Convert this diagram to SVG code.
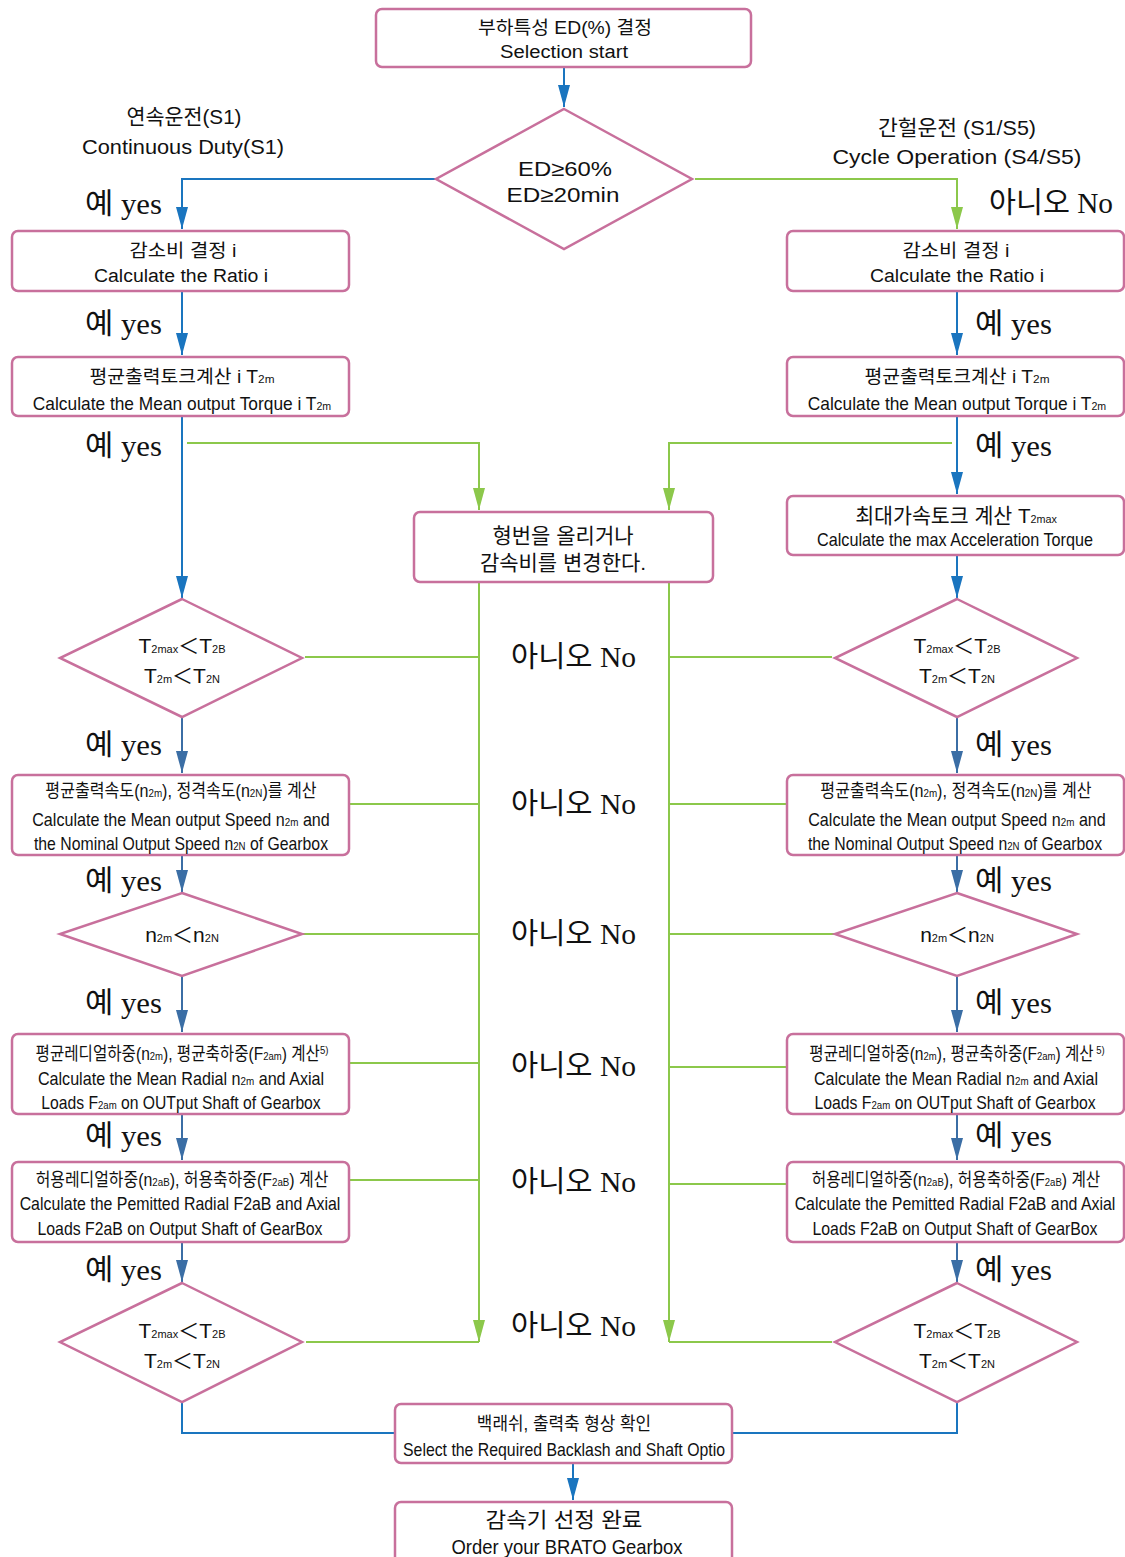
<svg xmlns="http://www.w3.org/2000/svg" width="1125" height="1557" viewBox="0 0 1125 1557">
<defs>
<style>
.box{fill:#fff;stroke:#c8709c;stroke-width:2.5}
.t{font-family:"Liberation Sans","Noto Sans CJK KR",sans-serif;font-size:18px;fill:#111;text-anchor:middle}
.tl{font-family:"Liberation Sans","Noto Sans CJK KR",sans-serif;font-size:21px;fill:#111;text-anchor:middle}
.s{font-size:11px}
.lab{font-family:"Liberation Serif","Noto Sans CJK KR",serif;font-size:29px;fill:#111}
.b1{fill:none;stroke:#1a75bf;stroke-width:2}
.b2{fill:none;stroke:#3b6ea5;stroke-width:2}
.g{fill:none;stroke:#8cc84b;stroke-width:2}
</style>
<marker id="ab1" viewBox="0 0 22 12" refX="22" refY="6" markerWidth="22" markerHeight="12" markerUnits="userSpaceOnUse" orient="auto"><path d="M0,0 L22,6 L0,12 z" fill="#1a75bf"/></marker>
<marker id="ab2" viewBox="0 0 22 12" refX="22" refY="6" markerWidth="22" markerHeight="12" markerUnits="userSpaceOnUse" orient="auto"><path d="M0,0 L22,6 L0,12 z" fill="#3b6ea5"/></marker>
<marker id="ag" viewBox="0 0 22 12" refX="22" refY="6" markerWidth="22" markerHeight="12" markerUnits="userSpaceOnUse" orient="auto"><path d="M0,0 L22,6 L0,12 z" fill="#8cc84b"/></marker>
</defs>
<rect width="1125" height="1557" fill="#fff"/>

<g id="connectors">
<path class="b1" d="M564,67 V107" marker-end="url(#ab1)"/>
<path class="b1" d="M436,179 H182 V229" marker-end="url(#ab1)"/>
<path class="g" d="M695,179 H957 V229" marker-end="url(#ag)"/>
<path class="b1" d="M182,291 V355" marker-end="url(#ab1)"/>
<path class="b1" d="M957,291 V355" marker-end="url(#ab1)"/>
<path class="b1" d="M182,416 V598" marker-end="url(#ab1)"/>
<path class="b1" d="M957,416 V494" marker-end="url(#ab1)"/>
<path class="b1" d="M957,555 V598" marker-end="url(#ab1)"/>
<path class="g" d="M187,443 H479 V510" marker-end="url(#ag)"/>
<path class="g" d="M952,443 H669 V510" marker-end="url(#ag)"/>
<path class="g" d="M479,582 V1342" marker-end="url(#ag)"/>
<path class="g" d="M669,582 V1342" marker-end="url(#ag)"/>
<path class="g" d="M305,657 H479"/>
<path class="g" d="M669,657 H832"/>
<path class="g" d="M344,804 H479"/>
<path class="g" d="M669,804 H792"/>
<path class="g" d="M303,934 H479"/>
<path class="g" d="M669,934 H834"/>
<path class="g" d="M344,1063 H479"/>
<path class="g" d="M669,1067 H822"/>
<path class="g" d="M346,1180 H479"/>
<path class="g" d="M669,1184 H822"/>
<path class="g" d="M306,1342 H479"/>
<path class="g" d="M669,1342 H832"/>
<path class="b2" d="M182,717 V773" marker-end="url(#ab2)"/>
<path class="b2" d="M957,717 V773" marker-end="url(#ab2)"/>
<path class="b2" d="M182,855 V892" marker-end="url(#ab2)"/>
<path class="b2" d="M957,855 V892" marker-end="url(#ab2)"/>
<path class="b2" d="M182,976 V1032" marker-end="url(#ab2)"/>
<path class="b2" d="M957,976 V1032" marker-end="url(#ab2)"/>
<path class="b2" d="M182,1114 V1160" marker-end="url(#ab2)"/>
<path class="b2" d="M957,1114 V1160" marker-end="url(#ab2)"/>
<path class="b2" d="M182,1242 V1282" marker-end="url(#ab2)"/>
<path class="b2" d="M957,1242 V1282" marker-end="url(#ab2)"/>
<path class="b1" d="M182,1402 V1433 H395"/>
<path class="b1" d="M957,1402 V1433 H733"/>
<path class="b1" d="M573,1463 V1500" marker-end="url(#ab1)"/>
</g>

<g id="labels">
<text class="tl" x="184" y="124" textLength="115" lengthAdjust="spacingAndGlyphs">연속운전(S1)</text>
<text class="tl" x="183" y="154" textLength="202" lengthAdjust="spacingAndGlyphs">Continuous Duty(S1)</text>
<text class="tl" x="957" y="135" textLength="158" lengthAdjust="spacingAndGlyphs">간헐운전 (S1/S5)</text>
<text class="tl" x="957" y="164" textLength="249" lengthAdjust="spacingAndGlyphs">Cycle Operation (S4/S5)</text>
<text class="lab" x="85" y="214" textLength="77" lengthAdjust="spacingAndGlyphs">예 yes</text>
<text class="lab" x="989" y="213" textLength="124" lengthAdjust="spacingAndGlyphs">아니오 No</text>
<text class="lab" x="85" y="334" textLength="77" lengthAdjust="spacingAndGlyphs">예 yes</text>
<text class="lab" x="975" y="334" textLength="77" lengthAdjust="spacingAndGlyphs">예 yes</text>
<text class="lab" x="85" y="456" textLength="77" lengthAdjust="spacingAndGlyphs">예 yes</text>
<text class="lab" x="975" y="456" textLength="77" lengthAdjust="spacingAndGlyphs">예 yes</text>
<text class="lab" x="85" y="755" textLength="77" lengthAdjust="spacingAndGlyphs">예 yes</text>
<text class="lab" x="975" y="755" textLength="77" lengthAdjust="spacingAndGlyphs">예 yes</text>
<text class="lab" x="85" y="891" textLength="77" lengthAdjust="spacingAndGlyphs">예 yes</text>
<text class="lab" x="975" y="891" textLength="77" lengthAdjust="spacingAndGlyphs">예 yes</text>
<text class="lab" x="85" y="1013" textLength="77" lengthAdjust="spacingAndGlyphs">예 yes</text>
<text class="lab" x="975" y="1013" textLength="77" lengthAdjust="spacingAndGlyphs">예 yes</text>
<text class="lab" x="85" y="1146" textLength="77" lengthAdjust="spacingAndGlyphs">예 yes</text>
<text class="lab" x="975" y="1146" textLength="77" lengthAdjust="spacingAndGlyphs">예 yes</text>
<text class="lab" x="85" y="1280" textLength="77" lengthAdjust="spacingAndGlyphs">예 yes</text>
<text class="lab" x="975" y="1280" textLength="77" lengthAdjust="spacingAndGlyphs">예 yes</text>
<text class="lab" x="511" y="667" textLength="125" lengthAdjust="spacingAndGlyphs">아니오 No</text>
<text class="lab" x="511" y="814" textLength="125" lengthAdjust="spacingAndGlyphs">아니오 No</text>
<text class="lab" x="511" y="944" textLength="125" lengthAdjust="spacingAndGlyphs">아니오 No</text>
<text class="lab" x="511" y="1076" textLength="125" lengthAdjust="spacingAndGlyphs">아니오 No</text>
<text class="lab" x="511" y="1192" textLength="125" lengthAdjust="spacingAndGlyphs">아니오 No</text>
<text class="lab" x="511" y="1336" textLength="125" lengthAdjust="spacingAndGlyphs">아니오 No</text>
</g>

<g id="start">
<rect class="box" x="376" y="9" width="375" height="58" rx="6"/>
<text class="t" x="565" y="34" textLength="174" lengthAdjust="spacingAndGlyphs">부하특성 ED(%) 결정</text>
<text class="t" x="564" y="58" textLength="128" lengthAdjust="spacingAndGlyphs">Selection start</text>
</g>
<g id="dec-ed">
<polygon class="box" points="564,109 692,179 564,249 436,179"/>
<text class="tl" x="565" y="176" textLength="94" lengthAdjust="spacingAndGlyphs">ED≥60%</text>
<text class="tl" x="563" y="202" textLength="113" lengthAdjust="spacingAndGlyphs">ED≥20min</text>
</g>

<g id="ratio-l">
<rect class="box" x="12" y="231" width="337" height="60" rx="6"/>
<text class="t" x="183" y="257" textLength="107" lengthAdjust="spacingAndGlyphs">감소비 결정 i</text>
<text class="t" x="181" y="282" textLength="174" lengthAdjust="spacingAndGlyphs">Calculate the Ratio i</text>
</g>
<g id="ratio-r">
<rect class="box" x="787" y="231" width="337" height="60" rx="6"/>
<text class="t" x="956" y="257" textLength="107" lengthAdjust="spacingAndGlyphs">감소비 결정 i</text>
<text class="t" x="957" y="282" textLength="174" lengthAdjust="spacingAndGlyphs">Calculate the Ratio i</text>
</g>

<g id="torque-l">
<rect class="box" x="12" y="357" width="337" height="59" rx="6"/>
<text class="t" x="182" y="383" textLength="185" lengthAdjust="spacingAndGlyphs">평균출력토크계산 i T<tspan class="s">2m</tspan></text>
<text class="t" transform="translate(182,410) scale(0.964,1)">Calculate the Mean output Torque i T<tspan class="s">2m</tspan></text>
</g>
<g id="torque-r">
<rect class="box" x="787" y="357" width="337" height="59" rx="6"/>
<text class="t" x="957" y="383" textLength="185" lengthAdjust="spacingAndGlyphs">평균출력토크계산 i T<tspan class="s">2m</tspan></text>
<text class="t" transform="translate(957,410) scale(0.964,1)">Calculate the Mean output Torque i T<tspan class="s">2m</tspan></text>
</g>

<g id="change">
<rect class="box" x="414" y="512" width="299" height="70" rx="6"/>
<text class="tl" x="563" y="543">형번을 올리거나</text>
<text class="tl" x="563" y="570">감속비를 변경한다.</text>
</g>
<g id="maxacc-r">
<rect class="box" x="787" y="496" width="337" height="59" rx="6"/>
<text class="tl" transform="translate(956,523) scale(0.98,1)">최대가속토크 계산 T<tspan class="s">2max</tspan></text>
<text class="t" transform="translate(955,546) scale(0.9,1)">Calculate the max Acceleration Torque</text>
</g>

<g id="dec-t-l">
<polygon class="box" points="182,599 302,658 182,717 60,658"/>
<text class="tl" x="182" y="653">T<tspan class="s">2max</tspan>＜T<tspan class="s">2B</tspan></text>
<text class="tl" x="182" y="683">T<tspan class="s">2m</tspan>＜T<tspan class="s">2N</tspan></text>
</g>
<g id="dec-t-r">
<polygon class="box" points="957,599 1077,658 957,717 835,658"/>
<text class="tl" x="957" y="653">T<tspan class="s">2max</tspan>＜T<tspan class="s">2B</tspan></text>
<text class="tl" x="957" y="683">T<tspan class="s">2m</tspan>＜T<tspan class="s">2N</tspan></text>
</g>

<g id="speed-l">
<rect class="box" x="12" y="775" width="337" height="80" rx="6"/>
<text class="t" transform="translate(181,797) scale(0.894,1)">평균출력속도(n<tspan class="s">2m</tspan>), 정격속도(n<tspan class="s">2N</tspan>)를 계산</text>
<text class="t" transform="translate(181,826) scale(0.895,1)">Calculate the Mean output Speed n<tspan class="s">2m</tspan> and</text>
<text class="t" transform="translate(181,850) scale(0.878,1)">the Nominal Output Speed n<tspan class="s">2N</tspan> of Gearbox</text>
</g>
<g id="speed-r">
<rect class="box" x="787" y="775" width="337" height="80" rx="6"/>
<text class="t" transform="translate(956,797) scale(0.894,1)">평균출력속도(n<tspan class="s">2m</tspan>), 정격속도(n<tspan class="s">2N</tspan>)를 계산</text>
<text class="t" transform="translate(957,826) scale(0.895,1)">Calculate the Mean output Speed n<tspan class="s">2m</tspan> and</text>
<text class="t" transform="translate(955,850) scale(0.878,1)">the Nominal Output Speed n<tspan class="s">2N</tspan> of Gearbox</text>
</g>

<g id="dec-n-l">
<polygon class="box" points="182,893 302,934 182,976 60,934"/>
<text class="tl" x="182" y="942">n<tspan class="s">2m</tspan>＜n<tspan class="s">2N</tspan></text>
</g>
<g id="dec-n-r">
<polygon class="box" points="957,893 1077,934 957,976 835,934"/>
<text class="tl" x="957" y="942">n<tspan class="s">2m</tspan>＜n<tspan class="s">2N</tspan></text>
</g>

<g id="meanload-l">
<rect class="box" x="12" y="1034" width="337" height="80" rx="6"/>
<text class="t" transform="translate(182,1060) scale(0.866,1)">평균레디얼하중(n<tspan class="s">2m</tspan>), 평균축하중(F<tspan class="s">2am</tspan>) 계산<tspan class="s" dy="-6">5)</tspan></text>
<text class="t" transform="translate(181,1085) scale(0.897,1)">Calculate the Mean Radial n<tspan class="s">2m</tspan> and Axial</text>
<text class="t" transform="translate(181,1109) scale(0.872,1)">Loads F<tspan class="s">2am</tspan> on OUTput Shaft of Gearbox</text>
</g>
<g id="meanload-r">
<rect class="box" x="787" y="1034" width="337" height="80" rx="6"/>
<text class="t" transform="translate(957,1060) scale(0.866,1)">평균레디얼하중(n<tspan class="s">2m</tspan>), 평균축하중(F<tspan class="s">2am</tspan>) 계산<tspan class="s" dy="-6"> 5)</tspan></text>
<text class="t" transform="translate(956,1085) scale(0.89,1)">Calculate the Mean Radial n<tspan class="s">2m</tspan> and Axial</text>
<text class="t" transform="translate(955,1109) scale(0.878,1)">Loads F<tspan class="s">2am</tspan> on OUTput Shaft of Gearbox</text>
</g>

<g id="permload-l">
<rect class="box" x="12" y="1162" width="337" height="80" rx="6"/>
<text class="t" transform="translate(182,1186) scale(0.885,1)">허용레디얼하중(n<tspan class="s">2aB</tspan>), 허용축하중(F<tspan class="s">2aB</tspan>) 계산</text>
<text class="t" transform="translate(180,1210) scale(0.884,1)">Calculate the Pemitted Radial F2aB and Axial</text>
<text class="t" transform="translate(180,1235) scale(0.88,1)">Loads F2aB on Output Shaft of GearBox</text>
</g>
<g id="permload-r">
<rect class="box" x="787" y="1162" width="337" height="80" rx="6"/>
<text class="t" transform="translate(956,1186) scale(0.873,1)">허용레디얼하중(n<tspan class="s">2aB</tspan>), 허용축하중(F<tspan class="s">2aB</tspan>) 계산</text>
<text class="t" transform="translate(955,1210) scale(0.884,1)">Calculate the Pemitted Radial F2aB and Axial</text>
<text class="t" transform="translate(955,1235) scale(0.88,1)">Loads F2aB on Output Shaft of GearBox</text>
</g>

<g id="dec-f-l">
<polygon class="box" points="182,1283 302,1342 182,1402 60,1342"/>
<text class="tl" x="182" y="1338">T<tspan class="s">2max</tspan>＜T<tspan class="s">2B</tspan></text>
<text class="tl" x="182" y="1368">T<tspan class="s">2m</tspan>＜T<tspan class="s">2N</tspan></text>
</g>
<g id="dec-f-r">
<polygon class="box" points="957,1283 1077,1342 957,1402 835,1342"/>
<text class="tl" x="957" y="1338">T<tspan class="s">2max</tspan>＜T<tspan class="s">2B</tspan></text>
<text class="tl" x="957" y="1368">T<tspan class="s">2m</tspan>＜T<tspan class="s">2N</tspan></text>
</g>

<g id="backlash">
<rect class="box" x="395" y="1404" width="337" height="59" rx="6"/>
<text class="t" transform="translate(564,1430) scale(0.94,1)">백래쉬, 출력축 형상 확인</text>
<text class="t" transform="translate(564,1456) scale(0.88,1)">Select the Required Backlash and Shaft Optio</text>
</g>
<g id="done">
<rect class="box" x="395" y="1502" width="337" height="70" rx="6"/>
<text class="tl" x="564" y="1527" textLength="157" lengthAdjust="spacingAndGlyphs">감속기 선정 완료</text>
<text class="tl" x="567" y="1554" textLength="231" lengthAdjust="spacingAndGlyphs">Order your BRATO Gearbox</text>
</g>
</svg>
